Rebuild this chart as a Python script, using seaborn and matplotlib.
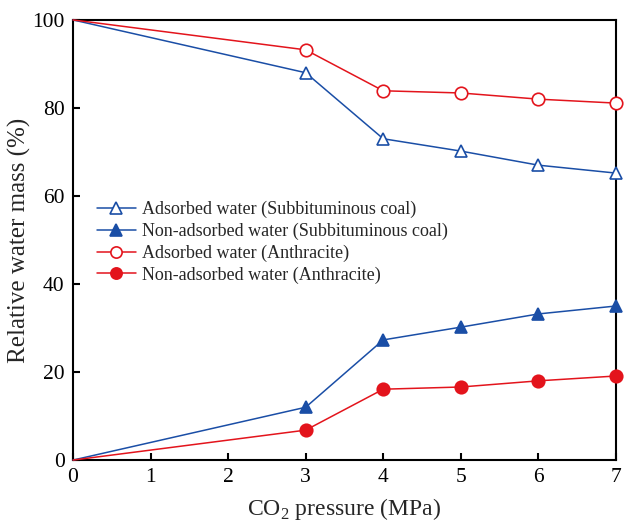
import matplotlib
matplotlib.use("Agg")
import matplotlib.pyplot as plt
from matplotlib.lines import Line2D
import seaborn as sns
import pandas as pd

sns.set_theme(style="ticks")
plt.rcParams['font.family'] = ['Liberation Serif', 'DejaVu Serif']
plt.rcParams['mathtext.fontset'] = 'custom'
plt.rcParams['mathtext.rm'] = 'Liberation Serif'

# data
pressure = [0, 3, 4, 5, 6, 7]
ads_sub = [100, 88.0, 73.0, 70.2, 67.0, 65.2]
nonads_sub = [0, 12.0, 27.3, 30.2, 33.2, 35.0]
ads_anth = [100, 93.2, 83.9, 83.4, 82.0, 81.1]
nonads_anth = [0, 6.8, 16.1, 16.6, 18.0, 19.1]

labels = ["Adsorbed water (Subbituminous coal)",
          "Non-adsorbed water (Subbituminous coal)",
          "Adsorbed water (Anthracite)",
          "Non-adsorbed water (Anthracite)"]

blue = "#1a4ea6"
red = "#e3141c"
styles = [
    dict(color=blue, marker="^", mfc="white", mec=blue),
    dict(color=blue, marker="^", mfc=blue, mec=blue),
    dict(color=red, marker="o", mfc="white", mec=red),
    dict(color=red, marker="o", mfc=red, mec=red),
]

df = pd.DataFrame({"pressure": pressure * 4,
                   "value": ads_sub + nonads_sub + ads_anth + nonads_anth,
                   "series": sum([[l] * len(pressure) for l in labels], [])})

fig = plt.figure(figsize=(6.24, 5.24), dpi=100)
ax = fig.add_axes([0.117, 0.122, 0.870, 0.840])

handles = []
for lab, st in zip(labels, styles):
    sub = df[df["series"] == lab]
    kw = dict(color=st["color"], marker=st["marker"], markersize=9,
              markerfacecolor=st["mfc"], markeredgecolor=st["mec"],
              markeredgewidth=1.2, linewidth=1.1)
    # markers at 0 MPa sit under the spine in the original, so skip them
    sns.lineplot(data=sub, x="pressure", y="value", ax=ax, legend=False,
                 clip_on=False, zorder=3,
                 markevery=list(range(1, len(pressure))), **kw)
    handles.append(Line2D([], [], label=lab, **kw))

ax.set_xlim(0, 7)
ax.set_ylim(0, 100)
ax.set_xticks(range(0, 8))
ax.set_yticks(range(0, 101, 20))
ax.tick_params(direction="in", length=5, width=1.5, labelsize=15.5, pad=6,
               top=False, right=False, colors="black")
for s in ax.spines.values():
    s.set_linewidth(1.5)
    s.set_color("black")

ax.set_xlabel(r"CO$_2$ pressure (MPa)", fontsize=17, labelpad=6)
ax.set_ylabel("Relative water mass (%)", fontsize=18, labelpad=1)

ax.legend(handles=handles, loc="upper left", bbox_to_anchor=(0.03, 0.605),
          frameon=False, fontsize=13, handlelength=2.2, labelspacing=0.25,
          handletextpad=0.3, borderaxespad=0, markerscale=0.9)

fig.savefig("out.png", dpi=100)
